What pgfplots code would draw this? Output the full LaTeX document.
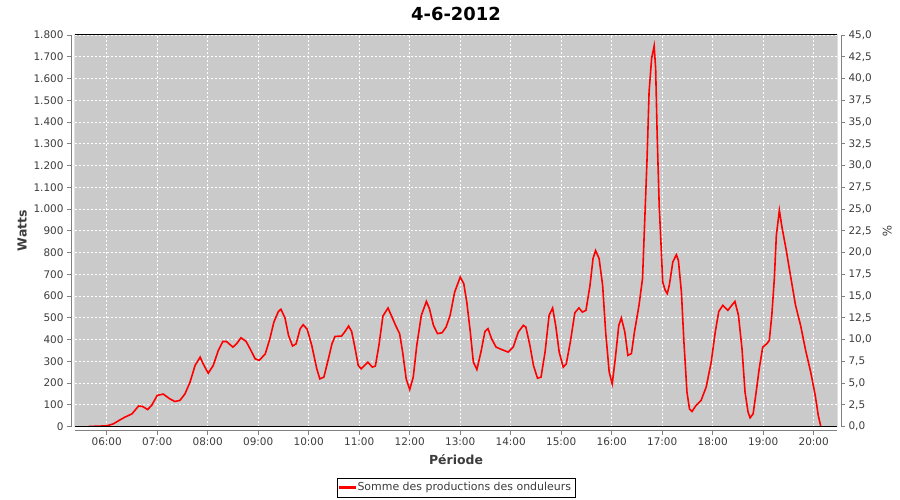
\documentclass[border=0pt]{standalone}
\usepackage{fontspec}
\setmainfont{DejaVu Sans}
\usepackage{pgfplots}
\pgfplotsset{compat=1.18}
\definecolor{plotbg}{RGB}{202,202,202}
\definecolor{axgray}{RGB}{128,128,128}
\definecolor{ticktxt}{RGB}{60,60,60}
\definecolor{plotred}{RGB}{255,0,0}
\begin{document}
\begin{tikzpicture}
\useasboundingbox (-75bp,-73.5bp) rectangle (825bp,426.5bp);
\begin{axis}[
  scale only axis, width=762bp, height=391.5bp,
  at={(0,0)}, anchor=south west,
  xmin=5.372, xmax=20.461, ymin=0, ymax=1800,
  axis x line*=bottom, axis y line*=left, axis line shift=4bp,
  axis line style={axgray, line width=0.8bp, -},
  axis background/.style={fill=plotbg},
  xtick={6,7,8,9,10,11,12,13,14,15,16,17,18,19,20},
  xticklabels={06:00,07:00,08:00,09:00,10:00,11:00,12:00,13:00,14:00,15:00,16:00,17:00,18:00,19:00,20:00},
  ytick={0,100,...,1800},
  tick align=outside, major tick length=4bp,
  tick style={axgray, line width=0.6bp},
  every tick label/.style={font=\fontsize{10.5}{12}\selectfont, text=ticktxt},
  /pgf/number format/assume math mode=true,
  /pgf/number format/1000 sep={.},
  grid=major, grid style={white, dash pattern=on 2bp off 2bp, line width=0.8bp},
  xlabel={\textbf{Période}}, ylabel={\textbf{Watts}},
  label style={font=\fontsize{12.5}{14}\selectfont, text=ticktxt},
  xlabel style={yshift=-2bp},
  ylabel style={yshift=0bp},
  title={\textbf{4-6-2012}}, title style={font=\fontsize{18}{20}\selectfont, yshift=5bp},
  legend style={at={(0.5,-0.131)}, anchor=north, draw=black,
    font=\fontsize{11}{13}\selectfont, text=ticktxt, inner xsep=2bp, inner ysep=2.5bp, row sep=0pt},
  legend cell align=left,
  legend image code/.code={\fill[plotred] (0bp,-0.85bp) rectangle (15bp,0.85bp);},
  clip=true,
]
\addplot[plotred, line width=1.6bp] coordinates {
(5.64,0) (6.00,3) (6.13,12) (6.26,30) (6.36,43) (6.50,58) (6.63,94) (6.71,92) (6.81,78) (6.89,97)
(7.00,143) (7.12,149) (7.25,127) (7.35,115) (7.45,120) (7.55,150) (7.65,204) (7.75,281) (7.85,319) (7.91,288)
(8.01,245) (8.11,281) (8.21,350) (8.30,391) (8.37,391) (8.50,365) (8.57,380) (8.66,408) (8.76,391) (8.84,357)
(8.94,311) (9.02,304) (9.14,334) (9.23,403) (9.31,480) (9.40,529) (9.45,539) (9.53,499) (9.60,419) (9.68,370)
(9.75,380) (9.83,449) (9.89,468) (9.97,447) (10.06,373) (10.16,265) (10.22,219) (10.30,227) (10.39,311) (10.46,380)
(10.52,414) (10.65,416) (10.72,437) (10.79,462) (10.85,437) (10.92,357) (10.98,281) (11.04,265) (11.17,296) (11.26,273)
(11.32,278) (11.39,373) (11.47,508) (11.57,545) (11.65,503) (11.72,465) (11.80,427) (11.86,342) (11.93,219) (12.00,170)
(12.07,227) (12.14,373) (12.23,511) (12.33,575) (12.39,542) (12.47,465) (12.55,427) (12.64,431) (12.72,457) (12.80,511)
(12.89,618) (13.00,687) (13.07,657) (13.13,572) (13.20,434) (13.26,296) (13.33,262) (13.41,342) (13.49,437) (13.55,450)
(13.62,404) (13.71,365) (13.82,354) (13.95,342) (14.05,365) (14.15,434) (14.25,465) (14.30,457) (14.38,373) (14.45,281)
(14.53,222) (14.60,227) (14.68,342) (14.76,511) (14.83,545) (14.89,465) (14.96,342) (15.04,273) (15.10,288) (15.18,388)
(15.27,523) (15.35,545) (15.42,526) (15.49,534) (15.57,649) (15.63,772) (15.68,809) (15.75,772) (15.82,649) (15.88,434)
(15.95,250) (16.01,196) (16.07,311) (16.14,465) (16.19,499) (16.26,434) (16.32,327) (16.39,335) (16.45,434) (16.54,557)
(16.61,680) (16.65,925) (16.70,1232) (16.74,1539) (16.79,1692) (16.84,1750) (16.87,1646) (16.90,1340) (16.94,1017) (16.98,818)
(17.01,664) (17.06,626) (17.10,611) (17.14,649) (17.21,756) (17.28,790) (17.32,764) (17.38,618) (17.43,388) (17.49,158)
(17.54,81) (17.59,69) (17.67,97) (17.77,120) (17.87,181) (17.97,296) (18.05,434) (18.12,529) (18.20,557) (18.30,534)
(18.36,552) (18.44,575) (18.51,511) (18.58,357) (18.64,158) (18.70,66) (18.74,40) (18.80,58) (18.86,158) (18.92,265)
(18.99,365) (19.07,380) (19.12,396) (19.17,511) (19.22,680) (19.26,879) (19.30,956) (19.32,994) (19.37,918) (19.45,818)
(19.55,680) (19.64,557) (19.74,465) (19.84,350) (19.94,250) (20.03,143) (20.09,51) (20.14,0)
};
\addlegendentry{Somme des productions des onduleurs}
\draw[black, line width=1bp] (rel axis cs:0,0) rectangle (rel axis cs:1,1);
\end{axis}
\begin{axis}[
  scale only axis, width=762bp, height=391.5bp,
  at={(0,0)}, anchor=south west,
  xmin=5.372, xmax=20.461, ymin=0, ymax=45,
  axis x line=none, axis y line*=right, axis line shift=4bp,
  axis line style={axgray, line width=0.8bp, -},
  ytick={0,2.5,...,45},
  tick align=outside, major tick length=4bp,
  tick style={axgray, line width=0.6bp},
  every tick label/.style={font=\fontsize{10.5}{12}\selectfont, text=ticktxt},
  /pgf/number format/assume math mode=true,
  yticklabel style={/pgf/number format/.cd, fixed, fixed zerofill, precision=1, use comma},
  ylabel={\%}, ylabel style={font=\fontsize{12}{14}\selectfont, text=ticktxt, rotate=180, yshift=4bp},
]
\end{axis}
\end{tikzpicture}
\end{document}
